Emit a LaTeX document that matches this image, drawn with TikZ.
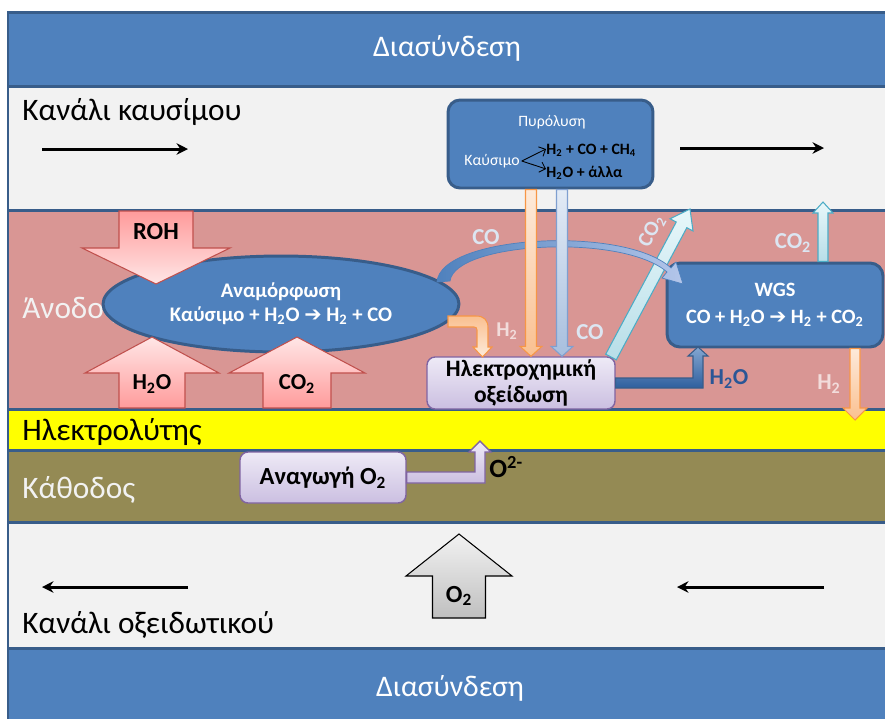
\documentclass[tikz,border=0pt]{standalone}
\usepackage{fontspec}
\setmainfont{Carlito}
\newfontfamily\arrowfont{DejaVu Sans}
\usepackage{xcolor}
\usepackage{tikz}
\usetikzlibrary{calc,shapes.geometric,arrows.meta}

\definecolor{icblue}{HTML}{4F81BD}
\definecolor{icedge}{HTML}{385D8A}
\definecolor{chgray}{HTML}{F2F2F2}
\definecolor{anodepink}{HTML}{D99694}
\definecolor{elyellow}{HTML}{FFFF00}
\definecolor{cathode}{HTML}{948A54}
\definecolor{lightlbl}{HTML}{DCE6F2}
\definecolor{pinklbl}{HTML}{F2DCDB}
\definecolor{redline}{HTML}{C0504D}
\definecolor{salmon}{HTML}{FF9B9B}
\definecolor{salmonlt}{HTML}{FFE6E6}
\definecolor{orline}{HTML}{F79646}
\definecolor{ordark}{HTML}{FAC090}
\definecolor{orlight}{HTML}{FDEADA}
\definecolor{blline}{HTML}{7F9FD0}
\definecolor{bldark}{HTML}{A7BFDE}
\definecolor{bllight}{HTML}{E3EBF6}
\definecolor{cyline}{HTML}{4BACC6}
\definecolor{cydark}{HTML}{B7DEE8}
\definecolor{cylight}{HTML}{E8F7FA}
\definecolor{lavline}{HTML}{8064A2}
\definecolor{lavtop}{HTML}{EEEAF6}
\definecolor{lavbot}{HTML}{CBBFE1}
\definecolor{h2oblue}{HTML}{2A5696}
\definecolor{darkarr}{HTML}{2F5F9E}
\definecolor{curvelt}{HTML}{B4C6EA}

\newcommand{\fsz}[1]{\fontsize{#1}{#1}\selectfont}
\newcommand{\chsub}[1]{\textsubscript{#1}}
\newcommand{\rarr}{{\arrowfont\bfseries ➔}}
% block arrow: [style]{from}{to}{half shaft}{half head}{head length}, in px
\newcommand{\fatarrow}[6][]{%
  \coordinate (fa-h) at ($(#3)!#6*0.02cm!(#2)$);
  \draw[#1] ($(#2)!#4*0.02cm!90:(#3)$) -- ($(fa-h)!#4*0.02cm!90:(#3)$)
    -- ($(fa-h)!#5*0.02cm!90:(#3)$) -- (#3)
    -- ($(fa-h)!#5*0.02cm!-90:(#3)$) -- ($(fa-h)!#4*0.02cm!-90:(#3)$)
    -- ($(#2)!#4*0.02cm!-90:(#3)$) -- cycle;}

\begin{document}
\begin{tikzpicture}[x=0.02cm,y=-0.02cm,
    layer/.style={draw=icedge,line width=1.7pt},
    side/.style={anchor=west,inner sep=0pt,font=\fsz{17.8}},
    flow/.style={-{Stealth[length=6.5pt,width=6.5pt]},line width=1.7pt},
    bluebox/.style={draw=icedge,line width=1.7pt,fill=icblue,inner sep=0pt},
    lavbox/.style={draw=lavline,line width=0.8pt,rounded corners=0.16cm,top color=lavtop,bottom color=lavbot,inner sep=0pt},
    pinkdown/.style={draw=redline,line width=0.6pt,top color=salmon,bottom color=salmonlt},
    pinkup/.style={draw=redline,line width=0.6pt,top color=salmonlt,bottom color=salmon},
    orarr/.style={draw=orline,line width=0.6pt,top color=orlight,bottom color=ordark},
    blarr/.style={draw=blline,line width=0.6pt,top color=bllight,bottom color=bldark},
    cyarr/.style={draw=cyline,line width=0.6pt,top color=cylight,bottom color=cydark},
    grayarr/.style={draw=black,line width=0.6pt,top color=chgray,bottom color=black!25},
    big/.style={font=\bfseries\fsz{13}},
    small/.style={font=\fsz{9}}
  ]
  \useasboundingbox (0,0) rectangle (885,718);
  \fill[white] (0,0) rectangle (885,718);

  % cell layers
  \draw[layer,fill=icblue] (8,12) rectangle (900,86);
  \draw[layer,fill=chgray] (8,86) rectangle (900,210);
  \draw[layer,fill=anodepink] (8,210) rectangle (900,409);
  \draw[layer,fill=elyellow] (8,409) rectangle (900,450);
  \draw[layer,fill=cathode] (8,450) rectangle (900,522);
  \draw[layer,fill=chgray] (8,522) rectangle (900,648);
  \draw[layer,fill=icblue] (8,648) rectangle (900,730);

  \node[font=\fsz{17},text=white] (ictop) at (447,48) {Διασύνδεση};
  \node[font=\fsz{17},text=white] (icbot) at (450,688) {Διασύνδεση};
  \node[side] (fuelch) at (22,112) {Κανάλι καυσίμου};
  \node[side,text=chgray] (anode) at (22,310) {Άνοδος};
  \node[side] (elyte) at (22,432) {Ηλεκτρολύτης};
  \node[side,text=chgray] (cath) at (22,490) {Κάθοδος};
  \node[side] (oxch) at (22,625) {Κανάλι οξειδωτικού};

  \coordinate (fl1a) at (42,149); \coordinate (fl1b) at (188,149);
  \coordinate (fl2a) at (680,148); \coordinate (fl2b) at (824,148);
  \coordinate (fl3a) at (188,587); \coordinate (fl3b) at (42,587);
  \coordinate (fl4a) at (824,587); \coordinate (fl4b) at (677,587);
  \draw[flow] (fl1a) -- (fl1b);
  \draw[flow] (fl2a) -- (fl2b);
  \draw[flow] (fl3a) -- (fl3b);
  \draw[flow] (fl4a) -- (fl4b);

  % pyrolysis
  \node[bluebox,rounded corners=0.24cm,minimum width=4.1cm,minimum height=1.76cm] (pyro) at (550.5,144) {};
  \node[small,text=white] (pyrot) at (552,122) {Πυρόλυση};
  \node[small,text=white,inner sep=1pt] (pfuel) at (492,161) {Καύσιμο};
  \node[anchor=west,inner sep=0pt,font=\bfseries\fsz{9}] (prodA) at (546,150) {H\chsub{2} + CO + CH\chsub{4}};
  \node[anchor=west,inner sep=0pt,font=\bfseries\fsz{9}] (prodB) at (546,173) {H\chsub{2}O + άλλα};
  \draw[-{Straight Barb[length=3pt]},line width=0.5pt] (pfuel.east) -- ([yshift=0.02cm]prodA.west);
  \draw[-{Straight Barb[length=3pt]},line width=0.5pt] (pfuel.east) -- ([yshift=0.08cm]prodB.west);

  % reforming
  \node[ellipse,draw=icedge,line width=1.7pt,fill=icblue,minimum width=7.12cm,minimum height=1.92cm,
        text=white,align=center,font=\bfseries\fontsize{11.8}{13.6}\selectfont] (ref) at (281,304)
        {Αναμόρφωση\\Καύσιμο + H\chsub{2}O \rarr{} H\chsub{2} + CO};

  \coordinate (rohA) at (156,211); \coordinate (rohB) at (156,284);
  \fatarrow[pinkdown]{rohA}{rohB}{37}{74}{36}
  \node[font=\bfseries\fsz{14}] (roh) at (156,232) {ROH};
  \coordinate (h2oA) at (152,408); \coordinate (h2oB) at (152,337);
  \fatarrow[pinkup]{h2oA}{h2oB}{33}{67}{36}
  \node[big] (h2oin) at (152,384) {H\chsub{2}O};
  \coordinate (co2A) at (297,408); \coordinate (co2B) at (297,337);
  \fatarrow[pinkup]{co2A}{co2B}{34}{68}{36}
  \node[big] (co2in) at (297,384) {CO\chsub{2}};

  % oxidation, WGS
  \node[lavbox,minimum width=3.76cm,minimum height=1.04cm,align=center,
        font=\bfseries\fontsize{13.4}{14.7}\selectfont] (eox) at (521,383) {Ηλεκτροχημική\\οξείδωση};
  \node[bluebox,rounded corners=0.26cm,minimum width=4.32cm,minimum height=1.68cm,text=white,align=center,
        font=\bfseries\fontsize{11.6}{15.3}\selectfont] (wgs) at (775,305) {WGS\\CO + H\chsub{2}O \rarr{} H\chsub{2} + CO\chsub{2}};

  \coordinate (cdA) at (611,357); \coordinate (cdB) at (690,209);
  \fatarrow[cyarr]{cdA}{cdB}{6}{13}{18}
  \node[font=\bfseries\fsz{12},text=lightlbl,rotate=62,inner sep=0pt] (co2d) at (652,231) {CO\chsub{2}};

  \draw[draw=icblue,line width=0.4pt,left color=icblue,right color=curvelt]
    (437,282) .. controls (440,235) and (625,225) .. (671,268) -- (676,262) -- (683,284)
    -- (662,278) -- (667,272) .. controls (622,233) and (455,242) .. (450,281) -- cycle;
  \node[big,text=lightlbl] (colbl) at (486,237) {CO};

  \coordinate (orA) at (531,0 |- pyro.south); \coordinate (orB) at (531,0 |- eox.north);
  \fatarrow[orarr]{orA}{orB}{5.5}{11}{10}
  \coordinate (blA) at (562,0 |- pyro.south); \coordinate (blB) at (562,0 |- eox.north);
  \fatarrow[blarr]{blA}{blB}{5.5}{11}{10}
  \node[big,text=lightlbl] (colbl2) at (590,332) {CO};

  \draw[orarr,top color=ordark,bottom color=orlight] (448,316) -- (476,316) .. controls (484,316) and (488,320) .. (488,328)
    -- (488,347) -- (492,347) -- (482.5,357) -- (473,347) -- (477,347) -- (477,330)
    .. controls (477,328) and (476,327) .. (474,327) -- (448,327) -- cycle;
  \node[font=\bfseries\fsz{12},text=pinklbl] (h2lbl) at (507,331) {H\chsub{2}};

  \draw[draw=icedge,line width=0.6pt,top color=icblue!70,bottom color=darkarr]
    (eox.east |- 0,378) -- (693,378) -- (693,356) -- (688,356) -- (698,347) -- (708,356)
    -- (703,356) -- (703,388) -- (eox.east |- 0,388) -- cycle;
  \node[big,text=h2oblue] (h2olbl) at (729,379) {H\chsub{2}O};

  \coordinate (wcA) at (823,0 |- wgs.north); \coordinate (wcB) at (823,202);
  \fatarrow[cyarr]{wcA}{wcB}{5}{10}{11}
  \node[big,text=lightlbl] (co2w) at (793,243) {CO\chsub{2}};
  \coordinate (whA) at (855,0 |- wgs.south); \coordinate (whB) at (855,420);
  \fatarrow[orarr]{whA}{whB}{5}{12}{12}
  \node[big,text=pinklbl] (h2w) at (829,384) {H\chsub{2}};

  % cathode side
  \node[lavbox,minimum width=3.32cm,minimum height=1.02cm,font=\bfseries\fsz{14}] (red) at (323,477.5) {Αναγωγή O\chsub{2}};
  \draw[lavbox,rounded corners=0pt] (red.east |- 0,472) -- (475,472) -- (475,452) -- (469,452) -- (480,441)
    -- (491,452) -- (485,452) -- (485,483) -- (red.east |- 0,483) -- cycle;
  \node[anchor=west,inner sep=0pt,font=\bfseries\fsz{15}] (oion) at (489,467) {O\textsuperscript{2-}};

  \coordinate (o2A) at (459,618); \coordinate (o2B) at (459,534);
  \fatarrow[grayarr]{o2A}{o2B}{26.5}{53}{42}
  \node[font=\bfseries\fsz{14}] (o2in) at (459,596) {O\chsub{2}};
\end{tikzpicture}
\end{document}
